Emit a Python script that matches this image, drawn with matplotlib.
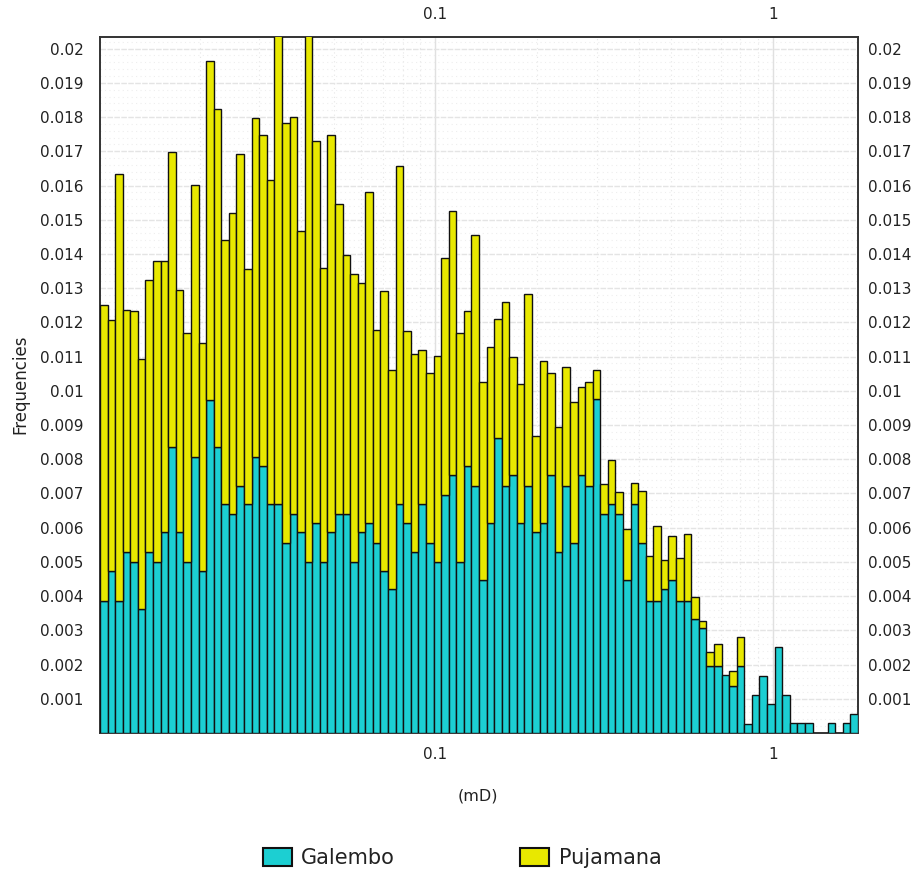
import numpy as np
import matplotlib
matplotlib.use("Agg")
import matplotlib.pyplot as plt
from matplotlib.ticker import FixedLocator, NullFormatter, LogLocator, MultipleLocator
from matplotlib.patches import Patch

# ---------------- data ----------------
x_min = 0.01014      # lower edge of first bin (mD)
x_max = 1.786        # upper edge of last bin (mD)
n_bins = 100

galembo = [
    0.00387, 0.00474, 0.00387, 0.00528, 0.00500, 0.00361, 0.00528, 0.00500, 0.00587, 0.00835,
    0.00587, 0.00500, 0.00807, 0.00474, 0.00974, 0.00835, 0.00668, 0.00640, 0.00723, 0.00668,
    0.00807, 0.00781, 0.00668, 0.00668, 0.00555, 0.00640, 0.00587, 0.00500, 0.00613, 0.00500,
    0.00587, 0.00640, 0.00640, 0.00500, 0.00587, 0.00613, 0.00555, 0.00474, 0.00420, 0.00668,
    0.00613, 0.00528, 0.00668, 0.00555, 0.00500, 0.00695, 0.00753, 0.00500, 0.00781, 0.00723,
    0.00447, 0.00613, 0.00861, 0.00723, 0.00753, 0.00613, 0.00723, 0.00587, 0.00613, 0.00753,
    0.00528, 0.00723, 0.00555, 0.00753, 0.00723, 0.00975, 0.00640, 0.00668, 0.00640, 0.00447,
    0.00668, 0.00555, 0.00387, 0.00387, 0.00420, 0.00447, 0.00387, 0.00387, 0.00334, 0.00307,
    0.00195, 0.00195, 0.00169, 0.00137, 0.00195, 0.00027, 0.00112, 0.00167, 0.00084, 0.00252,
    0.00112, 0.00028, 0.00028, 0.00028, 0.0, 0.0, 0.00028, 0.0, 0.00028, 0.00056,
]

pujamana = [
    0.00864, 0.00732, 0.01248, 0.00709, 0.00732, 0.00731, 0.00795, 0.00880, 0.00793, 0.00863,
    0.00708, 0.00669, 0.00795, 0.00665, 0.00989, 0.00988, 0.00773, 0.00881, 0.00970, 0.00687,
    0.00990, 0.00966, 0.00949, 0.01372, 0.01229, 0.01161, 0.00881, 0.01540, 0.01117, 0.00860,
    0.01160, 0.00905, 0.00756, 0.00840, 0.00727, 0.00967, 0.00623, 0.00818, 0.00642, 0.00989,
    0.00561, 0.00581, 0.00451, 0.00498, 0.00602, 0.00692, 0.00773, 0.00669, 0.00451, 0.00731,
    0.00578, 0.00515, 0.00349, 0.00537, 0.00345, 0.00407, 0.00559, 0.00280, 0.00474, 0.00298,
    0.00365, 0.00347, 0.00411, 0.00258, 0.00303, 0.00087, 0.00088, 0.00131, 0.00063, 0.00149,
    0.00064, 0.00153, 0.00131, 0.00219, 0.00085, 0.00128, 0.00124, 0.00196, 0.00064, 0.00021,
    0.00042, 0.00064, 0.0, 0.00043, 0.00086, 0.0, 0.0, 0.0, 0.0, 0.0,
    0.0, 0.0, 0.0, 0.0, 0.0, 0.0, 0.0, 0.0, 0.0, 0.0,
]

series_names = ["Galembo", "Pujamana"]
y_ticks = [0.001, 0.002, 0.003, 0.004, 0.005, 0.006, 0.007, 0.008, 0.009, 0.01,
           0.011, 0.012, 0.013, 0.014, 0.015, 0.016, 0.017, 0.018, 0.019, 0.02]
y_tick_labels = ["0.001", "0.002", "0.003", "0.004", "0.005", "0.006", "0.007", "0.008",
                 "0.009", "0.01", "0.011", "0.012", "0.013", "0.014", "0.015", "0.016",
                 "0.017", "0.018", "0.019", "0.02"]
x_ticks = [0.1, 1]
x_tick_labels = ["0.1", "1"]
x_label = "(mD)"
y_label = "Frequencies"
y_max = 0.02034

# ---------------- style ----------------
teal = "#1ccfd2"
yellow = "#e8e800"
text_color = "#222222"

W, H = 916, 875
fig = plt.figure(figsize=(W / 100, H / 100), dpi=100)
fig.patch.set_facecolor("white")

left, right, top, bottom = 100, 858, 37, 733
ax = fig.add_axes([left / W, 1 - bottom / H, (right - left) / W, (bottom - top) / H])

edges = np.logspace(np.log10(x_min), np.log10(x_max), n_bins + 1)
widths = np.diff(edges)
g = np.array(galembo)
p = np.array(pujamana)

gm = g > 0
pm = p > 0
ax.bar(edges[:-1][gm], g[gm], width=widths[gm], align="edge", color=teal,
       edgecolor="#111111", linewidth=1.0, zorder=3)
ax.bar(edges[:-1][pm], p[pm], bottom=g[pm], width=widths[pm], align="edge", color=yellow,
       edgecolor="#111111", linewidth=1.0, zorder=3)

ax.set_xscale("log")
ax.set_xlim(x_min, x_max)
ax.set_ylim(0, y_max)

# ticks
ax.xaxis.set_major_locator(FixedLocator(x_ticks))
ax.set_xticklabels(x_tick_labels)
ax.xaxis.set_minor_locator(LogLocator(base=10, subs=(2, 3, 4, 5, 6, 7, 8, 9)))
ax.xaxis.set_minor_formatter(NullFormatter())
ax.yaxis.set_major_locator(FixedLocator(y_ticks))
ax.set_yticklabels(y_tick_labels)
ax.yaxis.set_minor_locator(MultipleLocator(0.0002))

ax.tick_params(axis="both", which="both", length=0)
ax.tick_params(axis="y", pad=12, labelsize=11, labelcolor=text_color)
ax.tick_params(axis="x", pad=10, labelsize=11, labelcolor=text_color)

# grid
ax.set_axisbelow(True)
ax.grid(which="major", axis="y", color="#e4e4e4", linewidth=1.0, linestyle=(0, (4, 1)))
ax.grid(which="minor", axis="y", color="#eeeeee", linewidth=0.8, linestyle=(0, (1, 3)))
ax.grid(which="major", axis="x", color="#e0e0e0", linewidth=1.0, linestyle="-")
ax.grid(which="minor", axis="x", color="#e6e6e6", linewidth=0.8, linestyle=(0, (1, 3)))

for s in ax.spines.values():
    s.set_color("#333333")
    s.set_linewidth(1.4)

# right y labels
sy = ax.secondary_yaxis("right")
sy.yaxis.set_major_locator(FixedLocator(y_ticks))
sy.set_yticklabels(y_tick_labels)
sy.tick_params(length=0, pad=7, labelsize=11, labelcolor=text_color)
sy.spines["right"].set_visible(False)

# top x labels
sx = ax.secondary_xaxis("top")
sx.xaxis.set_major_locator(FixedLocator(x_ticks))
sx.set_xticklabels(x_tick_labels)
sx.xaxis.set_minor_formatter(NullFormatter())
sx.tick_params(which="both", length=0, pad=11, labelsize=11, labelcolor=text_color)
sx.spines["top"].set_visible(False)

# axis titles
fig.text(20 / W, 1 - 384 / H, y_label, rotation=90, ha="center", va="center",
         fontsize=12, color=text_color)
fig.text(478 / W, 1 - 796 / H, x_label, ha="center", va="center",
         fontsize=11.5, color=text_color)

# legend
handles = [Patch(facecolor=teal, edgecolor="#111111", linewidth=1.5, label=series_names[0]),
           Patch(facecolor=yellow, edgecolor="#111111", linewidth=1.5, label=series_names[1])]
leg = fig.legend(handles=handles, loc="center", bbox_to_anchor=(462 / W, 1 - 858 / H),
                 ncol=2, frameon=False, fontsize=15, handlelength=1.4, handleheight=1.0,
                 handletextpad=0.45, columnspacing=6.0)
for t in leg.get_texts():
    t.set_color(text_color)

fig.savefig("out.png", dpi=100, facecolor="white")
